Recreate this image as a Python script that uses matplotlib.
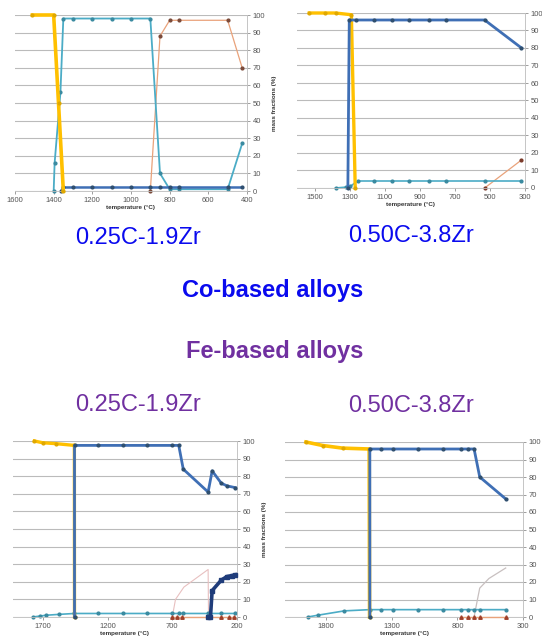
import matplotlib
matplotlib.use("Agg")
import matplotlib.pyplot as plt

W, H = 542, 641

# ---------------- data ----------------
# Co-based 0.25C-1.9Zr
tl_liq_T = [1510, 1400, 1375, 1350]
tl_liq_v = [100, 100, 50, 0]
tl_cyan_T = [1400, 1395, 1365, 1350, 1300, 1200, 1100, 1000, 900, 850, 800, 750, 500, 425]
tl_cyan_v = [0, 16, 56, 98, 98, 98, 98, 98, 98, 10, 1, 1, 1, 27]
tl_blue_T = [1360, 1350, 1300, 1200, 1100, 1000, 900, 850, 800, 750, 500, 425]
tl_blue_v = [0, 2, 2, 2, 2, 2, 2, 2, 2, 2, 2, 2]
tl_orng_T = [900, 850, 800, 750, 500, 425]
tl_orng_v = [0, 88, 97, 97, 97, 70]

# Co-based 0.50C-3.8Zr
tr_liq_T = [1530, 1440, 1380, 1290, 1268]
tr_liq_v = [100, 100, 100, 99, 0]
tr_blue_T = [1310, 1302, 1265, 1160, 1060, 960, 850, 750, 530, 320]
tr_blue_v = [0, 96, 96, 96, 96, 96, 96, 96, 96, 80]
tr_cyan_T = [1380, 1320, 1295, 1255, 1160, 1060, 960, 850, 750, 530, 320]
tr_cyan_v = [0, 0.5, 1, 4, 4, 4, 4, 4, 4, 4, 4]
tr_orng_T = [530, 320]
tr_orng_v = [0, 16]

# Fe-based 0.25C-1.9Zr
bl_liq_T = [1765, 1700, 1600, 1456, 1455]
bl_liq_v = [100, 99, 98.5, 97.5, 0]
bl_blue_T = [1455, 1455, 1272, 1077, 892, 700, 650, 615, 423, 392, 321, 277, 213]
bl_blue_v = [0, 97.5, 97.5, 97.5, 97.5, 97.5, 97.5, 84, 71, 83, 76, 74.5, 73.5]
bl_navy_T = [425, 405, 392, 321, 277, 240, 213]
bl_navy_v = [0, 0, 15, 21, 23, 23.5, 24]
bl_pink_T = [700, 675, 610, 423, 420]
bl_pink_v = [0, 10, 17, 27, 0]
bl_orng_T = [700, 662, 623, 321, 264, 226]
bl_orng_v = [0, 0, 0, 0, 0, 0]
bl_cyan_T = [1777, 1725, 1675, 1572, 1456, 1272, 1077, 892, 700, 650, 615, 423, 321, 213]
bl_cyan_v = [0, 0.5, 1, 1.5, 2, 2, 2, 2, 2, 2, 2, 2, 2, 2]

# Fe-based 0.50C-3.8Zr
br_liq_T = [1955, 1828, 1676, 1473, 1470]
br_liq_v = [100, 98, 96.5, 96, 0]
br_blue_T = [1468, 1468, 1384, 1290, 1097, 909, 775, 719, 673, 630, 432]
br_blue_v = [0, 96, 96, 96, 96, 96, 96, 96, 96, 80, 67.5]
br_cyan_T = [1942, 1866, 1663, 1468, 1384, 1290, 1097, 909, 775, 719, 673, 630, 432]
br_cyan_v = [0, 1, 3.5, 4.2, 4.2, 4.2, 4.2, 4.2, 4.2, 4.2, 4.2, 4.2, 4.2]
br_orng_T = [775, 719, 673, 630, 432]
br_orng_v = [0, 0, 0, 0, 0]
br_gray_T = [673, 650, 630, 560, 432]
br_gray_v = [0, 9, 16.5, 22, 28]

yticks = list(range(0, 101, 10))
tl_xticks = [1600, 1400, 1200, 1000, 800, 600, 400]
tr_xticks = [1500, 1300, 1100, 900, 700, 500, 300]
bl_xticks = [1700, 1200, 700, 200]
br_xticks = [1800, 1300, 800, 300]

xlabel = "temperature (°C)"
ylabel = "mass fractions (%)"

# ---------------- styles ----------------
C_YEL = "#FFC000"
C_BLUE = "#3F6FB5"
C_CYAN = "#4BACC6"
C_NAVY = "#1F3C7A"
C_ORNG = "#E9A27A"
C_PINK = "#E8C0C0"
C_GRAY = "#C8C0C0"
C_MK = "#2F4F6F"

plt.rcParams["font.family"] = ["Liberation Sans", "DejaVu Sans"]

fig = plt.figure(figsize=(W / 100, H / 100), dpi=100)
fig.patch.set_facecolor("white")


def rect(l, r, t, b):
    return [l / W, 1 - b / H, (r - l) / W, (b - t) / H]


def style(ax, xlim, xt, ylab):
    ax.set_xlim(*xlim)
    ax.set_ylim(0, 100)
    ax.set_xticks(xt)
    ax.set_xticklabels([str(v) for v in xt])
    ax.set_yticks(yticks)
    ax.yaxis.tick_right()
    ax.tick_params(axis="both", labelsize=5.5, colors="#777777", length=2, width=0.5, pad=2)
    for lab in ax.get_xticklabels() + ax.get_yticklabels():
        lab.set_color("#555555")
    ax.grid(axis="y", color="#BBBBBB", lw=0.8)
    ax.set_axisbelow(True)
    for s in ["left", "top"]:
        ax.spines[s].set_visible(False)
    ax.spines["right"].set_color("#BBBBBB")
    ax.spines["bottom"].set_color("#BBBBBB")
    ax.spines["right"].set_linewidth(0.6)
    ax.spines["bottom"].set_linewidth(0.6)
    ax.set_xlabel(xlabel, fontsize=4.5, fontweight="bold", color="#333333", labelpad=1)
    if ylab:
        ax.yaxis.set_label_position("right")
        ax.set_ylabel(ylab, fontsize=4.5, fontweight="bold", color="#333333", rotation=90, labelpad=5)


def line(ax, T, v, color, lw, ms=2.0, marker="o", mc=None, z=2):
    ax.plot(T, v, color=color, lw=lw, marker=marker, ms=ms,
            mfc=mc or color, mec=mc or color, zorder=z, clip_on=False)


# Top-left
ax1 = fig.add_axes(rect(15, 247, 15, 191))
style(ax1, (1600, 400), tl_xticks, ylabel)
line(ax1, tl_orng_T, tl_orng_v, C_ORNG, 0.9, mc="#7A4A3A")
line(ax1, tl_cyan_T, tl_cyan_v, C_CYAN, 1.3, mc="#3A8AA0")
line(ax1, tl_blue_T, tl_blue_v, C_BLUE, 1.8, mc=C_MK)
line(ax1, tl_liq_T, tl_liq_v, C_YEL, 2.6, mc="#E0A800", z=3)

# Top-right
ax2 = fig.add_axes(rect(297, 525, 13, 188))
style(ax2, (1600, 300), tr_xticks, None)
line(ax2, tr_orng_T, tr_orng_v, C_ORNG, 0.9, mc="#7A3A2A")
line(ax2, tr_cyan_T, tr_cyan_v, C_CYAN, 1.2, mc="#3A8AA0")
line(ax2, tr_liq_T, tr_liq_v, C_YEL, 2.4, mc="#E0A800", z=3)
line(ax2, tr_blue_T, tr_blue_v, C_BLUE, 2.0, mc=C_MK, z=4)

# Bottom-left
ax3 = fig.add_axes(rect(13, 237, 441, 617))
style(ax3, (1930, 200), bl_xticks, ylabel)
line(ax3, bl_pink_T, bl_pink_v, C_PINK, 0.8, marker=None)
line(ax3, bl_cyan_T, bl_cyan_v, C_CYAN, 1.2, mc="#3A8AA0")
line(ax3, bl_liq_T, bl_liq_v, C_YEL, 2.4, mc="#E0A800", z=3)
line(ax3, bl_blue_T, bl_blue_v, C_BLUE, 2.0, mc=C_MK, z=4)
line(ax3, bl_orng_T, bl_orng_v, C_ORNG, 1.0, marker="^", ms=2.5, mc="#A0402A", z=4)
line(ax3, bl_navy_T, bl_navy_v, C_NAVY, 2.6, marker="s", ms=3, mc=C_NAVY, z=5)

# Bottom-right
ax4 = fig.add_axes(rect(285, 523, 442, 617))
style(ax4, (2115, 300), br_xticks, None)
line(ax4, br_gray_T, br_gray_v, C_GRAY, 0.9, marker=None)
line(ax4, br_cyan_T, br_cyan_v, C_CYAN, 1.2, mc="#3A8AA0")
line(ax4, br_liq_T, br_liq_v, C_YEL, 2.6, mc="#E0A800", z=3)
line(ax4, br_blue_T, br_blue_v, C_BLUE, 2.0, mc=C_MK, z=4)
line(ax4, br_orng_T, br_orng_v, C_ORNG, 1.0, marker="^", ms=2.5, mc="#A0402A", z=4)

# ---------------- texts ----------------
BLUE = "#0A0AEE"
PURP = "#7030A0"


def ftext(x, y, s, color, bold=False):
    fig.text(x / W, 1 - y / H, s, color=color, fontsize=17,
             fontweight="bold" if bold else "normal", ha="center", va="center")


ftext(138, 238, "0.25C-1.9Zr", BLUE)
ftext(411, 236, "0.50C-3.8Zr", BLUE)
ftext(273, 291, "Co-based alloys", BLUE, bold=True)
ftext(275, 351, "Fe-based alloys", PURP, bold=True)
ftext(138, 405, "0.25C-1.9Zr", PURP)
ftext(411, 406, "0.50C-3.8Zr", PURP)

fig.savefig("out.png", dpi=100, facecolor="white")
